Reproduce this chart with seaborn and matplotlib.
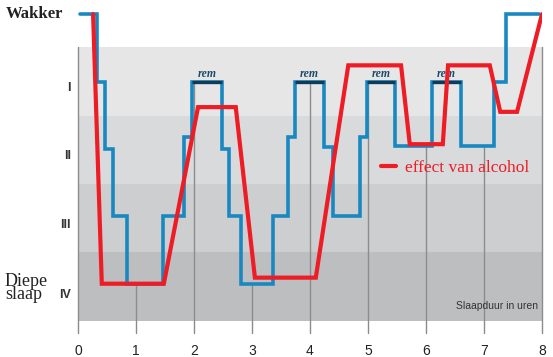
import numpy as np
import pandas as pd
import seaborn as sns
import matplotlib.pyplot as plt

# Normal sleep pattern (blue steps): start time of each step and its depth
blue_x = [0.03, 0.33, 0.47, 0.60, 0.84, 1.47, 1.83, 1.97, 2.48, 2.60, 2.81, 3.36,
          3.62, 3.74, 4.24, 4.40, 4.86, 4.98, 5.47, 6.10, 6.60, 7.17, 7.38, 7.95]
blue_y = [0, 1, 2, 3, 4, 3, 1.82, 1, 2, 3, 4, 3,
          1.82, 1, 1.97, 3, 1.82, 1, 1.96, 1, 1.96, 1, 0, 0]
rem_idx = [7, 13, 17, 19]  # steps that are REM sleep

# Sleep pattern after alcohol (red line)
red_x = [0.26, 0.41, 1.48, 2.07, 2.72, 3.05, 4.10, 4.66, 5.57, 5.72,
         6.29, 6.38, 7.10, 7.28, 7.57, 8.00]
red_y = [0, 4, 4, 1.38, 1.38, 3.91, 3.91, 0.76, 0.76, 1.93,
         1.93, 0.76, 0.76, 1.45, 1.45, 0]

stage_labels = ['I', 'II', 'III', 'IV']
hours = list(range(9))

BLUE = '#1a88c0'
RED = '#ee1c25'
REM = '#103b58'

sns.set_style('white')

df_blue = pd.DataFrame({'uur': blue_x, 'diepte': blue_y})
df_red = pd.DataFrame({'uur': red_x, 'diepte': red_y, 'serie': 'effect van alcohol'})

fig = plt.figure(figsize=(5.53, 3.57), dpi=100)
ax = fig.add_axes([78 / 553, 1 - 341 / 357, 464 / 553, 337 / 357])
ax.set_xlim(0, 8)
ax.set_ylim(4.85, -0.15)

# grey bands, one per sleep stage
band_edges = [0.49, 1.51, 2.52, 3.53, 4.55]
band_colors = ['#e6e6e7', '#d9dadb', '#cdcecf', '#bdbec0']
for i, c in enumerate(band_colors):
    ax.axhspan(band_edges[i], band_edges[i + 1], color=c, lw=0, zorder=0)

# hour lines run from the bottom up to the blue line
bx = np.array(blue_x)
for h in hours:
    k = np.searchsorted(bx, h, side='right') - 1
    if k < 0 or k >= len(bx) - 1:
        top = band_edges[0]
    else:
        top = blue_y[k]
    ax.plot([h, h], [4.73, top], color='#8c8c8c', lw=1, zorder=1, clip_on=False)

sns.lineplot(data=df_blue, x='uur', y='diepte', drawstyle='steps-post', color=BLUE,
             lw=2.6, estimator=None, ax=ax, zorder=2, solid_joinstyle='miter')

# REM stretches in dark blue with a label
for k in rem_idx:
    ax.plot([blue_x[k], blue_x[k + 1]], [blue_y[k], blue_y[k]], color=REM, lw=2.4,
            solid_capstyle='butt', zorder=3)
    ax.text((blue_x[k] + blue_x[k + 1]) / 2, blue_y[k] - 0.07, 'rem', ha='center',
            va='baseline', fontsize=8.5, style='italic', fontweight='bold',
            family='Liberation Serif', color='#1f4a68', zorder=3)

sns.lineplot(data=df_red, x='uur', y='diepte', hue='serie', palette=[RED], lw=3,
             estimator=None, sort=False, ax=ax, zorder=4, solid_joinstyle='miter')
for ln in ax.get_lines()[-1:]:
    ln.set_clip_on(False)

leg = ax.legend(loc='center left', bbox_to_anchor=(5.22, 2.28), bbox_transform=ax.transData,
                frameon=False, borderpad=0, borderaxespad=0, handlelength=0.9,
                handletextpad=0.5, prop={'family': 'Liberation Serif', 'size': 12.5},
                labelcolor=RED)
leg.get_lines()[0].set_linewidth(3)

ax.set_xticks(hours)
ax.set_xticklabels([str(h) for h in hours], fontsize=10, family='Liberation Sans', color='#222222')
ax.set_yticks([1.08, 2.09, 3.11, 4.15])
ax.set_yticklabels(stage_labels, fontsize=9, family='Liberation Sans', fontweight='bold',
                   color='#333333')
ax.tick_params(axis='x', length=0, pad=2)
ax.tick_params(axis='y', length=0, pad=5)
ax.set_xlabel('')
ax.set_ylabel('')
for s in ax.spines.values():
    s.set_visible(False)
ax.patch.set_alpha(0)

ax.text(7.93, 4.33, 'Slaapduur in uren', ha='right', va='center', fontsize=7.5,
        family='Liberation Sans', color='#333333')

fig.text(6 / 553, 1 - 14 / 357, 'Wakker', ha='left', va='center', fontsize=12,
         fontweight='bold', family='Liberation Serif', color='#222222')
fig.text(5 / 553, 1 - 288 / 357, 'Diepe\nslaap', ha='left', va='center', fontsize=13,
         family='Liberation Serif', color='#222222', linespacing=0.72)

fig.savefig('out.png', dpi=100)
